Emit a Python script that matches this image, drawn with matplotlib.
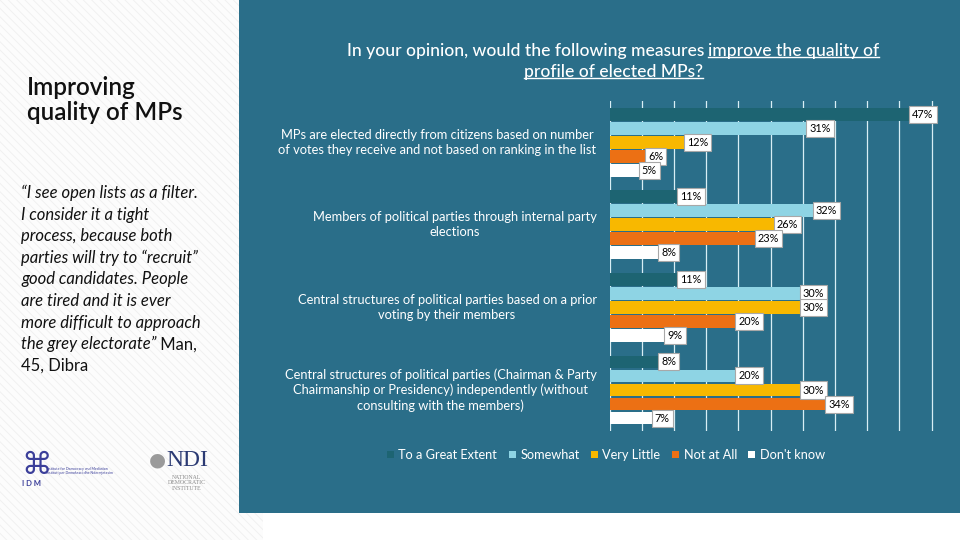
import matplotlib
matplotlib.use("Agg")
import matplotlib.pyplot as plt
from matplotlib.patches import Rectangle, Patch
from matplotlib.lines import Line2D

plt.rcParams['font.family'] = ['Lato', 'DejaVu Sans']
plt.rcParams['hatch.linewidth'] = 0.6

# data
categories = [
    "MPs are elected directly from citizens based on number\nof votes they receive and not based on ranking in the list",
    "Members of political parties through internal party\nelections",
    "Central structures of political parties based on a prior\nvoting by their members",
    "Central structures of political parties (Chairman & Party\nChairmanship or Presidency) independently (without\nconsulting with the members)",
]
series_names = ["To a Great Extent", "Somewhat", "Very Little", "Not at All", "Don't know"]
great_extent = [47, 11, 11, 8]
somewhat = [31, 32, 30, 20]
very_little = [12, 26, 30, 30]
not_at_all = [6, 23, 20, 34]
dont_know = [5, 8, 9, 7]
series_values = [great_extent, somewhat, very_little, not_at_all, dont_know]
colors = ['#1D6472', '#8ED4E4', '#F8B800', '#EC7014', '#FFFFFF']

panel_color = '#2A6E89'

title_plain = "In your opinion, would the following measures "
title_under1 = "improve the quality of"
title_under2 = "profile of elected MPs?"

side_title = "Improving\nquality of MPs"
quote_lines = [
    "\u201cI see open lists as a filter.",
    "I consider it a tight",
    "process, because both",
    "parties will try to \u201crecruit\u201d",
    "good candidates. People",
    "are tired and it is ever",
    "more difficult to approach",
]
quote_last_italic = "the grey electorate\u201d"
quote_last_plain = " Man,"
quote_source = "45, Dibra"

W, H = 960, 540
fig = plt.figure(figsize=(9.6, 5.4), dpi=100)
fig.patch.set_facecolor('white')

# hatched left strip and teal panel
bg = fig.add_axes([0, 0, 1, 1], zorder=-10)
bg.set_xlim(0, W)
bg.set_ylim(H, 0)
bg.axis('off')
bg.add_patch(Rectangle((0, 0), 263, H, facecolor='#FCFCFC', edgecolor='#EFEFEF',
                       hatch='\\\\\\\\', linewidth=0))
bg.add_patch(Rectangle((239, 0), W - 239, 512.5, facecolor=panel_color, edgecolor='none'))

# bar chart
px_per_pct = 6.44
x0 = 609.5
xmax = 54
ax = fig.add_axes([x0 / W, 1 - 431.3 / H, xmax * px_per_pct / W, (431.3 - 100.9) / H])
ax.set_facecolor('none')
ax.set_xlim(0, xmax)
ax.set_ylim(3.5, -0.5)
for s in ax.spines.values():
    s.set_visible(False)
ax.set_xticks(range(0, 51, 5))
ax.set_yticks([])
ax.tick_params(axis='x', length=0, labelbottom=False)
ax.grid(axis='x', color='#D8EEF5', linewidth=0.9)
ax.set_axisbelow(True)

pitch = 0.17
bar_h = 0.155
for j, (vals, col) in enumerate(zip(series_values, colors)):
    ys = [i + (j - 2) * pitch for i in range(len(vals))]
    ax.barh(ys, vals, height=bar_h, color=col, zorder=2)
    for y, v in zip(ys, vals):
        ax.text(v, y, f"{v}%", ha='left', va='center', fontsize=7.8, color='black', zorder=4,
                bbox=dict(boxstyle='square,pad=0.28', fc='white', ec='#A8A8A8', lw=0.8))

for i, lab in enumerate(categories):
    ax.text(-2.0, i, lab, ha='right', va='center', multialignment='center',
            fontsize=9.3, color='white', linespacing=1.3)

# legend
handles = [Patch(facecolor=c, edgecolor='none') for c in colors]
leg = fig.legend(handles, series_names, loc='center', bbox_to_anchor=(606 / W, 1 - 455 / H),
                 ncol=5, frameon=False, fontsize=9.2, labelcolor='white',
                 handlelength=0.55, handleheight=0.55, handletextpad=0.35, columnspacing=0.9)

# chart title with underlined part
renderer = fig.canvas.get_renderer()
tfs = 12.6
ta = fig.text(0, 1 - 51 / H, title_plain, fontsize=tfs, color='white', va='center', fontweight='medium')
tb = fig.text(0, 1 - 51 / H, title_under1, fontsize=tfs, color='white', va='center', fontweight='medium')
tc = fig.text(613 / W, 1 - 72 / H, title_under2, fontsize=tfs, color='white', va='center', ha='center',
              fontweight='medium')
wa = ta.get_window_extent(renderer).width
wb = tb.get_window_extent(renderer).width
start = 613 - (wa + wb) / 2
ta.set_x(start / W)
tb.set_x((start + wa) / W)
for t in (tb, tc):
    bb = t.get_window_extent(renderer)
    yline = bb.y0 + 2
    fig.add_artist(Line2D([bb.x0 / W, bb.x1 / W], [yline / H, yline / H],
                          color='white', linewidth=1.0, transform=fig.transFigure))

# left side text
fig.text(27 / W, 1 - 100 / H, side_title, fontsize=17.5, fontweight='semibold', color='#111111',
         va='center', linespacing=1.08)
qfs = 12
y = 193
for line in quote_lines:
    fig.text(21 / W, 1 - y / H, line, fontsize=qfs, style='italic', color='#111111', va='center')
    y += 21.6
ti = fig.text(21 / W, 1 - y / H, quote_last_italic, fontsize=qfs, style='italic', color='#111111', va='center')
wi = ti.get_window_extent(renderer).width
fig.text((21 + wi) / W, 1 - y / H, quote_last_plain, fontsize=qfs, color='#111111', va='center')
y += 21.6
fig.text(21 / W, 1 - y / H, quote_source, fontsize=qfs, color='#111111', va='center')

# logos (approximated with text)
fig.text(21 / W, 1 - 465 / H, "\u2318", fontsize=22, color='#3B3F9A', va='center',
         family=['DejaVu Sans'])
fig.text(22 / W, 1 - 484 / H, "I D M", fontsize=5.5, fontweight='bold', color='#3B3F9A', va='center')
fig.text(46 / W, 1 - 471 / H, "Institute for Democracy and Mediation\nInstituti per Demokraci dhe Ndermjetesim",
         fontsize=2.6, color='#3B3F9A', va='center', linespacing=1.3)
fig.text(149 / W, 1 - 460 / H, "\u25CF", fontsize=14, color='#9A9A9A', va='center', family=['DejaVu Sans'])
fig.text(166 / W, 1 - 460 / H, "NDI", fontsize=17, color='#2B3A73', va='center',
         family=['Liberation Serif'])
fig.text(187 / W, 1 - 483 / H, "NATIONAL\nDEMOCRATIC\nINSTITUTE", fontsize=4.2, color='#8A8A8A',
         va='center', ha='center', family=['Liberation Serif'], linespacing=1.1)

fig.savefig('out.png', dpi=100)
